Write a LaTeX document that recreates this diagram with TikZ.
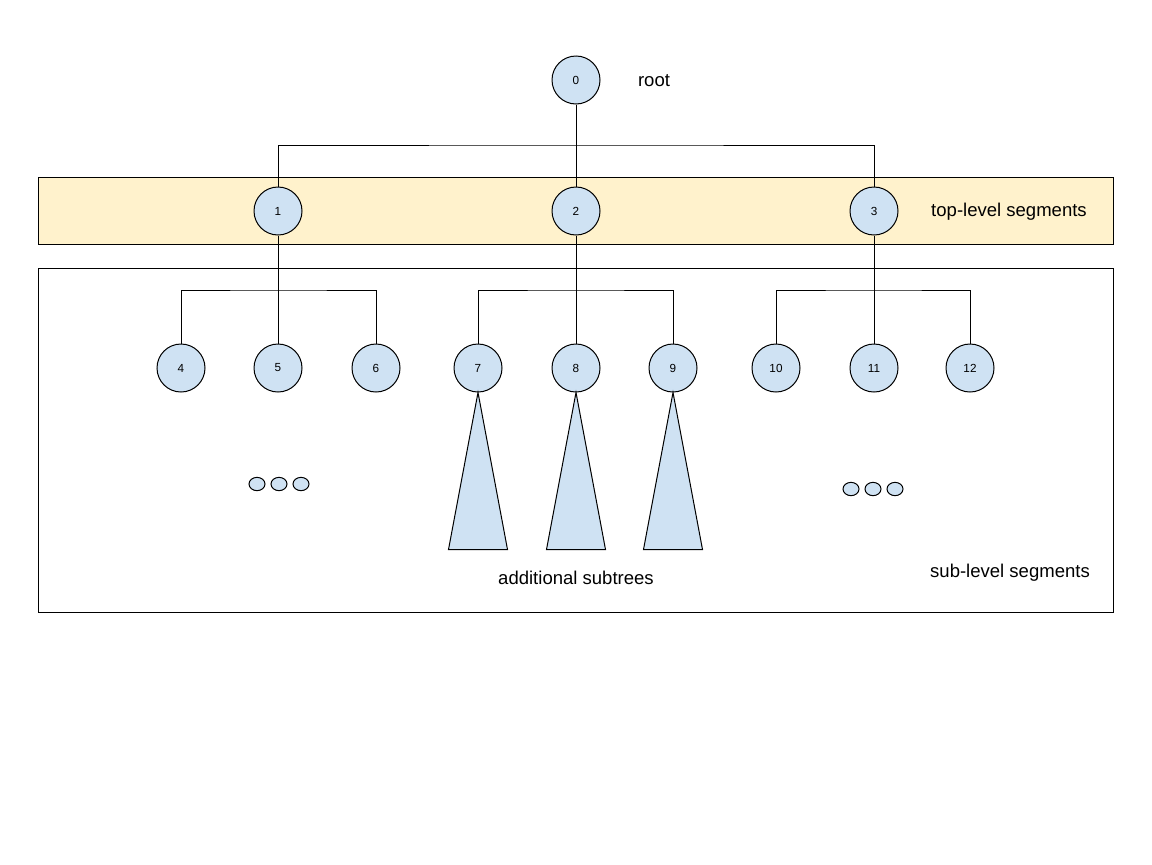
\documentclass[tikz,border=0pt]{standalone}
\usepackage{fontspec}
\setmainfont{Liberation Sans}
\usepackage{tikz}
\usetikzlibrary{positioning, shapes.geometric}
\definecolor{nodeblue}{HTML}{CFE2F3}
\definecolor{bandyellow}{HTML}{FFF2CC}

\begin{document}
\begin{tikzpicture}[
    x=0.75pt, y=-0.75pt,
    seg/.style={circle, draw, fill=nodeblue, line width=0.75pt, minimum size=36pt, inner sep=0pt, font=\fontsize{8.8}{10}\selectfont},
    dot/.style={ellipse, draw, fill=nodeblue, line width=0.75pt, minimum width=12pt, minimum height=10pt, inner sep=0pt},
    subtree/.style={draw, fill=nodeblue, line width=0.75pt, line join=miter},
    label/.style={font=\fontsize{13.9}{16}\selectfont},
    link/.style={draw, line width=0.75pt}
]
    \useasboundingbox (0,0) rectangle (1152,864);

    % segment areas
    \draw[fill=bandyellow, line width=0.75pt] (38,177) rectangle (1113,244);
    \draw[fill=white, line width=0.75pt] (38,268) rectangle (1113,612);

    % root and top level
    \node[seg] (n0) at (576,80) {0};
    \node[label] (rootlbl) at (654,81) {root};
    \node[seg] (n1) at (278,211) {1};
    \node[seg] (n2) at (576,211) {2};
    \node[seg] (n3) at (874,211) {3};
    \node[label] (toplbl) at (1009,212) {top-level segments};

    % sub level
    \foreach \i/\x in {4/181, 5/278, 6/376, 7/478, 8/576, 9/673, 10/776, 11/874, 12/970}
        \node[seg] (n\i) at (\x,368) {\i};

    \coordinate (bar0) at (576,145);
    \coordinate (bar1) at (278,290);
    \coordinate (bar2) at (576,290);
    \coordinate (bar3) at (874,290);

    \draw[link] (n0) -- (n2);
    \draw[link] (n1) |- (bar0) -| (n3);
    \draw[link] (n1) -- (n5);
    \draw[link] (n4) |- (bar1) -| (n6);
    \draw[link] (n2) -- (n8);
    \draw[link] (n7) |- (bar2) -| (n9);
    \draw[link] (n3) -- (n11);
    \draw[link] (n10) |- (bar3) -| (n12);

    % subtrees below 7, 8, 9
    \foreach \i in {7,8,9}
        \path[subtree] (n\i.south) -- ++(-29.5,157) -- ++(59,0) -- cycle;
    \node[label] (sublbl) at (576,578) {additional subtrees};

    % more children
    \node[dot] (d1) at (257,484) {};
    \node[dot] (d2) at (279,484) {};
    \node[dot] (d3) at (301,484) {};
    \node[dot] (d4) at (851,489) {};
    \node[dot] (d5) at (873,489) {};
    \node[dot] (d6) at (895,489) {};

    \node[label] (lowlbl) at (1010,573) {sub-level segments};
\end{tikzpicture}
\end{document}
